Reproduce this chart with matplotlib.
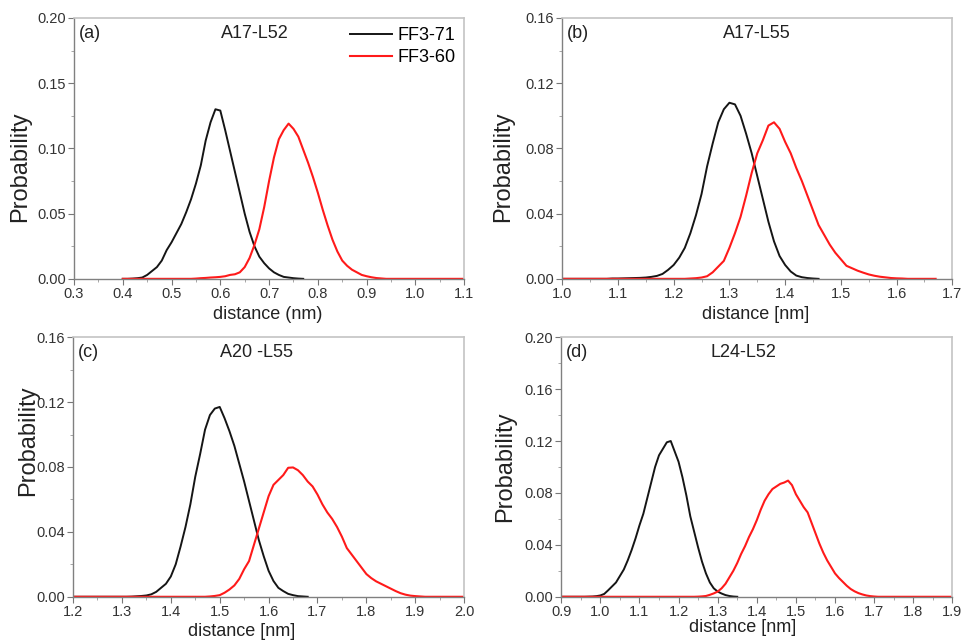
import numpy as np
from matplotlib import pyplot as plt
from matplotlib.ticker import MultipleLocator, FormatStrFormatter

plt.rcParams['font.family'] = ['Liberation Sans', 'DejaVu Sans']

# histogram bins are 0.01 nm wide; each series lists its values from its first bin
# panel (a) A17-L52
a_black_x0 = 0.40
a_black_y = [0, 0, 0.0002, 0.0005, 0.001, 0.003, 0.006, 0.009, 0.014, 0.022,
             0.028, 0.035, 0.042, 0.051, 0.061, 0.073, 0.087, 0.106, 0.120, 0.130,
             0.129, 0.114, 0.098, 0.082, 0.066, 0.050, 0.036, 0.025, 0.017, 0.012,
             0.008, 0.005, 0.003, 0.0015, 0.001, 0.0005, 0.0002, 0]
a_red_x0 = 0.40
a_red_y = [0, 0, 0, 0, 0, 0, 0, 0, 0, 0,
           0, 0, 0, 0, 0, 0.0002, 0.0005, 0.0007, 0.001, 0.0012,
           0.0015, 0.002, 0.003, 0.0035, 0.005, 0.009, 0.016, 0.026, 0.038, 0.055,
           0.075, 0.093, 0.107, 0.114, 0.119, 0.115, 0.109, 0.099, 0.089, 0.078,
           0.066, 0.053, 0.041, 0.030, 0.021, 0.014, 0.010, 0.007, 0.005, 0.003,
           0.002, 0.0012, 0.0006, 0.0003, 0, 0, 0, 0, 0, 0,
           0, 0, 0, 0, 0, 0, 0, 0, 0, 0, 0]

# panel (b) A17-L55
b_black_x0 = 1.00
b_black_y = [0, 0, 0, 0, 0, 0, 0, 0, 0, 0.0002,
             0.0002, 0.0003, 0.0004, 0.0005, 0.0006, 0.0008, 0.0012, 0.0018, 0.003, 0.0055,
             0.0085, 0.013, 0.019, 0.028, 0.039, 0.052, 0.069, 0.083, 0.096, 0.104,
             0.108, 0.107, 0.100, 0.089, 0.077, 0.063, 0.049, 0.035, 0.023, 0.014,
             0.0085, 0.0045, 0.002, 0.001, 0.0005, 0.0002, 0]
b_red_x0 = 1.00
b_red_y = [0, 0, 0, 0, 0, 0, 0, 0, 0, 0,
           0, 0, 0, 0, 0, 0, 0, 0, 0, 0,
           0, 0, 0, 0.0002, 0.0004, 0.0008, 0.0016, 0.004, 0.0075, 0.011,
           0.019, 0.028, 0.038, 0.051, 0.065, 0.077, 0.085, 0.094, 0.096, 0.092,
           0.084, 0.077, 0.068, 0.060, 0.051, 0.042, 0.033, 0.027, 0.021, 0.016,
           0.012, 0.008, 0.0065, 0.005, 0.0038, 0.0027, 0.0019, 0.0013, 0.0009, 0.0005,
           0.0003, 0.0002, 0, 0, 0, 0, 0, 0]

# panel (c) A20 -L55
c_black_x0 = 1.20
c_black_y = [0, 0, 0, 0, 0, 0, 0, 0, 0, 0,
             0, 0, 0.0001, 0.0003, 0.0005, 0.0008, 0.0015, 0.003, 0.0055, 0.008,
             0.0125, 0.020, 0.031, 0.043, 0.057, 0.074, 0.088, 0.103, 0.112, 0.116,
             0.117, 0.110, 0.102, 0.093, 0.082, 0.071, 0.059, 0.047, 0.035, 0.025,
             0.016, 0.0097, 0.0055, 0.0035, 0.0018, 0.001, 0.0004, 0.0002, 0]
c_red_x0 = 1.20
c_red_y = [0, 0, 0, 0, 0, 0, 0, 0, 0, 0,
           0, 0, 0, 0, 0, 0, 0, 0, 0, 0,
           0, 0, 0, 0, 0, 0, 0, 0, 0.0002, 0.0005,
           0.001, 0.0025, 0.0045, 0.007, 0.011, 0.017, 0.022, 0.032, 0.042, 0.052,
           0.062, 0.069, 0.072, 0.075, 0.0795, 0.0797, 0.078, 0.075, 0.071, 0.068,
           0.063, 0.057, 0.052, 0.048, 0.043, 0.037, 0.030, 0.026, 0.022, 0.018,
           0.014, 0.0115, 0.0095, 0.008, 0.0065, 0.005, 0.0035, 0.0022, 0.0013, 0.0007,
           0.0004, 0.0002, 0, 0, 0, 0, 0, 0, 0, 0, 0]

# panel (d) L24-L52
d_black_x0 = 0.90
d_black_y = [0, 0, 0, 0, 0, 0, 0, 0.0001, 0.0002, 0.0005,
             0.001, 0.0022, 0.005, 0.008, 0.011, 0.016, 0.021, 0.028, 0.036, 0.045,
             0.055, 0.064, 0.076, 0.088, 0.100, 0.109, 0.114, 0.119, 0.120, 0.112,
             0.104, 0.092, 0.078, 0.062, 0.050, 0.038, 0.027, 0.018, 0.011, 0.0065,
             0.004, 0.0025, 0.0013, 0.0006, 0.0002, 0]
d_red_x0 = 0.90
d_red_y = [0, 0, 0, 0, 0, 0, 0, 0, 0, 0,
           0, 0, 0, 0, 0, 0, 0, 0, 0, 0,
           0, 0, 0, 0, 0, 0, 0, 0, 0, 0,
           0, 0, 0, 0, 0, 0.0001, 0.0003, 0.0006, 0.0015, 0.0026,
           0.004, 0.0065, 0.010, 0.015, 0.020, 0.026, 0.033, 0.039, 0.046, 0.052,
           0.059, 0.067, 0.074, 0.079, 0.083, 0.085, 0.087, 0.088, 0.0895, 0.086,
           0.079, 0.074, 0.069, 0.065, 0.057, 0.049, 0.041, 0.034, 0.028, 0.023,
           0.018, 0.0145, 0.0115, 0.0085, 0.006, 0.0042, 0.0028, 0.0018, 0.001, 0.0005,
           0.0002, 0, 0, 0, 0, 0, 0, 0, 0, 0,
           0, 0, 0, 0, 0, 0, 0, 0, 0, 0, 0]

series_names = ["FF3-71", "FF3-60"]
panel_tags = ["(a)", "(b)", "(c)", "(d)"]
panel_titles = ["A17-L52", "A17-L55", "A20 -L55", "L24-L52"]
x_labels = ["distance (nm)", "distance [nm]", "distance [nm]", "distance [nm]"]
x_limits = [(0.3, 1.1), (1.0, 1.7), (1.2, 2.0), (0.9, 1.9)]
y_limits = [(0, 0.20), (0, 0.16), (0, 0.16), (0, 0.20)]
y_steps = [0.05, 0.04, 0.04, 0.04]

panels = [
    (a_black_x0, a_black_y, a_red_x0, a_red_y),
    (b_black_x0, b_black_y, b_red_x0, b_red_y),
    (c_black_x0, c_black_y, c_red_x0, c_red_y),
    (d_black_x0, d_black_y, d_red_x0, d_red_y),
]


def bins(x0, ys):
    return x0 + 0.01 * np.arange(len(ys))


fig = plt.figure(figsize=(9.61, 6.41), dpi=100)
rects = [
    [0.077, 0.565, 0.406, 0.407],
    [0.585, 0.565, 0.406, 0.407],
    [0.076, 0.069, 0.407, 0.405],
    [0.584, 0.069, 0.407, 0.405],
]
# label placement differs a little from panel to panel in the original
ylab_pos = [(-0.138, 0.43), (-0.151, 0.43), (-0.115, 0.60), (-0.143, 0.50)]
xlab_pos = [(0.497, -0.138), (0.497, -0.138), (0.43, -0.135), (0.465, -0.12)]
title_x = [0.464, 0.50, 0.47, 0.465]

for i, (bx0, by, rx0, ry) in enumerate(panels):
    ax = fig.add_axes(rects[i])
    ax.plot(bins(bx0, by), by, color="#151515", lw=1.4, label=series_names[0])
    ax.plot(bins(rx0, ry), ry, color="#ff1a1a", lw=1.5, label=series_names[1])

    ax.set_xlim(*x_limits[i])
    ax.set_ylim(*y_limits[i])
    ax.xaxis.set_major_locator(MultipleLocator(0.1))
    ax.xaxis.set_minor_locator(MultipleLocator(0.05))
    ax.yaxis.set_major_locator(MultipleLocator(y_steps[i]))
    ax.yaxis.set_minor_locator(MultipleLocator(y_steps[i] / 2))
    ax.xaxis.set_major_formatter(FormatStrFormatter("%.1f"))
    ax.yaxis.set_major_formatter(FormatStrFormatter("%.2f"))
    ax.tick_params(which="major", direction="out", length=4, width=0.8,
                   color="#777777", labelsize=10.5, labelcolor="#333333", pad=2)
    ax.tick_params(which="minor", direction="out", length=2, width=0.6, color="#999999")

    for side in ["left", "bottom"]:
        ax.spines[side].set_color("#808080")
        ax.spines[side].set_linewidth(1.0)
    for side in ["top", "right"]:
        ax.spines[side].set_color("#c4c4c4")
        ax.spines[side].set_linewidth(1.2)

    ax.set_ylabel("Probability", fontsize=17, color="#222222")
    ax.yaxis.set_label_coords(*ylab_pos[i])
    ax.yaxis.label.set_va("center")
    ax.set_xlabel(x_labels[i], fontsize=13, color="#222222")
    ax.xaxis.set_label_coords(*xlab_pos[i])
    ax.xaxis.label.set_va("center")

    ax.text(0.012, 0.94, panel_tags[i], transform=ax.transAxes, fontsize=13,
            ha="left", va="center", color="#222222")
    ax.text(title_x[i], 0.94, panel_titles[i], transform=ax.transAxes, fontsize=13,
            ha="center", va="center", color="#222222")

    if i == 0:
        ax.legend(loc="upper right", frameon=False, fontsize=13, handlelength=2.3,
                  handletextpad=0.3, labelspacing=0.3, borderaxespad=0.1)

fig.savefig("out.png", dpi=100)
